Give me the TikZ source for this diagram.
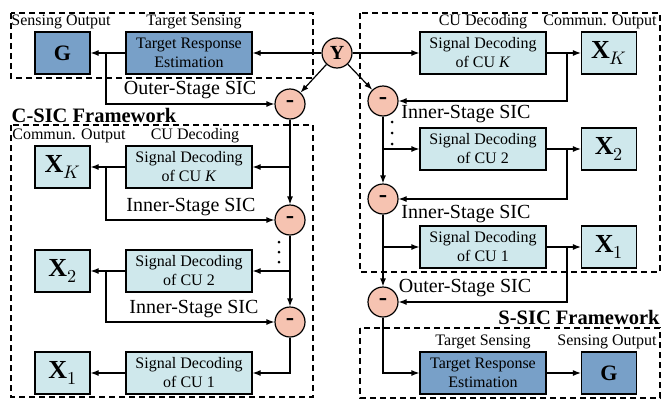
\documentclass[tikz,border=0pt]{standalone}
\usepackage{fontspec}
\setmainfont{Liberation Serif}
\usepackage{unicode-math}
\setmathfont{Latin Modern Math}
\usepackage{tikz}
\usetikzlibrary{arrows.meta}
\definecolor{decodecyan}{HTML}{CFE8EC}
\definecolor{senseblue}{HTML}{78A0C8}
\definecolor{sicpink}{HTML}{F6C3B1}

\begin{document}
\begin{tikzpicture}[x=1pt, y=-1pt,
    box/.style={draw, line width=1.2pt, minimum height=42pt, inner sep=0pt, align=center, font=\fontsize{16}{19}\selectfont},
    decbox/.style={box, fill=decodecyan, minimum width=126pt},
    outbox/.style={box, fill=decodecyan, minimum width=55pt, font=\fontsize{26}{28}\selectfont},
    sensbox/.style={box, fill=senseblue, minimum width=126pt},
    gbox/.style={box, fill=senseblue, minimum width=55pt, font=\fontsize{22}{24}\selectfont\bfseries},
    sub/.style={circle, draw, line width=1.2pt, fill=sicpink, minimum size=30pt, inner sep=0pt, font=\fontsize{25}{25}\selectfont\bfseries},
    tag/.style={font=\fontsize{16}{18}\selectfont, inner sep=0pt},
    sic/.style={font=\fontsize{20}{22}\selectfont, inner sep=0pt},
    frame/.style={line width=1.2pt, dash pattern=on 6pt off 4pt},
    flow/.style={line width=1.2pt, -{Latex[length=8pt, width=6pt]}}
]
\useasboundingbox (0,0) rectangle (661,399);

% dashed frames
\draw[frame] (11,13) rectangle (313,78);
\draw[frame] (11,125) rectangle (313,397);
\draw[frame] (360,13) rectangle (660,272);
\draw[frame] (360,328) rectangle (660,398);

% frame labels
\node[tag] at (61,22) {Sensing Output};
\node[tag] at (194,22) {Target Sensing};
\node[tag] at (483,22) {CU Decoding};
\node[tag] at (600,22) {Commun. Output};
\node[tag] at (69,136) {Commun. Output};
\node[tag] at (195,136) {CU Decoding};
\node[tag] at (483,342) {Target Sensing};
\node[tag] at (607,342) {Sensing Output};
\node[sic, font=\fontsize{20.5}{22}\selectfont\bfseries] at (94,115) {C-SIC Framework};
\node[sic, font=\fontsize{20.5}{22}\selectfont\bfseries] at (579,317) {S-SIC Framework};
\node[sic] at (190,90) {Outer-Stage SIC};
\node[sic] at (191,207) {Inner-Stage SIC};
\node[sic] at (194,309) {Inner-Stage SIC};
\node[sic] at (466,114) {Inner-Stage SIC};
\node[sic] at (466,214) {Inner-Stage SIC};
\node[sic] at (465,288) {Outer-Stage SIC};

% received signal and sensing stage (C-SIC)
\node[sub, font=\fontsize{20}{20}\selectfont\bfseries] (y) at (337,53) {Y};
\node[gbox] (g1) at (62.5,53) {G};
\node[sensbox] (tre1) at (189,53) {Target Response\\Estimation};
\node[sub] (o1) at (290,104) {-};

% CU decoding (C-SIC)
\node[outbox] (xk1) at (62.5,167) {$\mathbf{X}_K$};
\node[decbox] (dk1) at (189,167) {Signal Decoding\\of CU \textit{K}};
\node[sub] (s1) at (290,220) {-};
\node[outbox] (x21) at (62.5,271) {$\mathbf{X}_2$};
\node[decbox] (d21) at (189,271) {Signal Decoding\\of CU 2};
\node[sub] (s2) at (290,322) {-};
\node[outbox] (x11) at (62.5,373) {$\mathbf{X}_1$};
\node[decbox] (d11) at (189,373) {Signal Decoding\\of CU 1};

% CU decoding (S-SIC)
\node[decbox] (dk2) at (483,53) {Signal Decoding\\of CU \textit{K}};
\node[outbox] (xk2) at (609,53) {$\mathbf{X}_K$};
\node[sub] (s3) at (383,101) {-};
\node[decbox] (d22) at (483,149) {Signal Decoding\\of CU 2};
\node[outbox] (x22) at (609,149) {$\mathbf{X}_2$};
\node[sub] (s4) at (383,199) {-};
\node[decbox] (d12) at (483,247) {Signal Decoding\\of CU 1};
\node[outbox] (x12) at (609,247) {$\mathbf{X}_1$};
\node[sub] (o2) at (383,302) {-};

% sensing stage (S-SIC)
\node[sensbox] (tre2) at (483,373) {Target Response\\Estimation};
\node[gbox] (g2) at (609,373) {G};

% branch points
\coordinate (fb1) at (106,53);
\coordinate (fb2) at (106,167);
\coordinate (fb3) at (106,271);
\coordinate (fb4) at (567,53);
\coordinate (fb5) at (567,149);
\coordinate (fb6) at (567,247);

% C-SIC connectors
\draw[flow] (y) -- (tre1);
\draw[flow] (tre1) -- (g1);
\draw[flow] (fb1) |- (o1);
\draw[flow] (y) -- (o1);
\draw[flow] (o1) -- (s1);
\draw[flow] (o1 |- dk1) -- (dk1);
\draw[flow] (dk1) -- (xk1);
\draw[flow] (fb2) |- (s1);
\draw[flow] (s1) -- (s2);
\draw[flow] (s1 |- d21) -- (d21);
\draw[flow] (d21) -- (x21);
\draw[flow] (fb3) |- (s2);
\draw[flow] (s2) |- (d11);
\draw[flow] (d11) -- (x11);

% S-SIC connectors
\draw[flow] (y) -- (dk2);
\draw[flow] (dk2) -- (xk2);
\draw[flow] (fb4) |- (s3);
\draw[flow] (y) -- (s3);
\draw[flow] (s3) -- (s4);
\draw[flow] (s3 |- d22) -- (d22);
\draw[flow] (d22) -- (x22);
\draw[flow] (fb5) |- (s4);
\draw[flow] (s4) -- (o2);
\draw[flow] (s4 |- d12) -- (d12);
\draw[flow] (d12) -- (x12);
\draw[flow] (fb6) |- (o2);
\draw[flow] (o2) |- (tre2);
\draw[flow] (tre2) -- (g2);

% omitted stages
\foreach \d in {242,252,262} \fill (279,\d) circle (1.5pt);
\foreach \d in {122,133,144} \fill (392,\d) circle (1.5pt);
\end{tikzpicture}
\end{document}
